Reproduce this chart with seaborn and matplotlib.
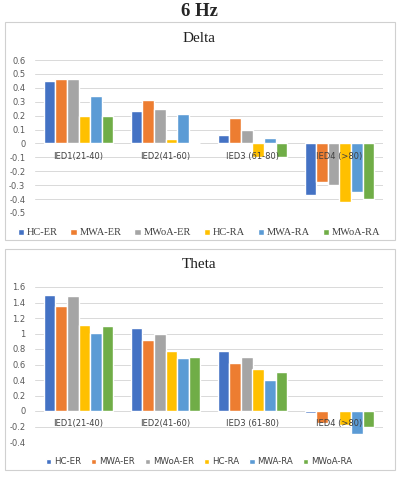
import pandas as pd
import numpy as np
import matplotlib
matplotlib.use('Agg')
import matplotlib.pyplot as plt
import seaborn as sns
from matplotlib.patches import Rectangle

# categories and series
groups = ['IED1(21-40)', 'IED2(41-60)', 'IED3 (61-80)', 'IED4 (>80)']
series = ['HC-ER', 'MWA-ER', 'MWoA-ER', 'HC-RA', 'MWA-RA', 'MWoA-RA']
colors = ['#4472C4', '#ED7D31', '#A5A5A5', '#FFC000', '#5B9BD5', '#70AD47']

# values, one list per series (IED1..IED4)
delta_hc_er = [0.45, 0.23, 0.06, -0.37]
delta_mwa_er = [0.46, 0.31, 0.18, -0.28]
delta_mwoa_er = [0.46, 0.25, 0.10, -0.30]
delta_hc_ra = [0.20, 0.03, -0.10, -0.42]
delta_mwa_ra = [0.34, 0.21, 0.04, -0.35]
delta_mwoa_ra = [0.20, 0.00, -0.10, -0.40]

theta_hc_er = [1.50, 1.07, 0.78, -0.03]
theta_mwa_er = [1.35, 0.92, 0.62, -0.15]
theta_mwoa_er = [1.48, 1.00, 0.70, 0.00]
theta_hc_ra = [1.11, 0.77, 0.54, -0.18]
theta_mwa_ra = [1.01, 0.69, 0.40, -0.30]
theta_mwoa_ra = [1.10, 0.70, 0.50, -0.20]

delta_ticks = [-0.5, -0.4, -0.3, -0.2, -0.1, 0, 0.1, 0.2, 0.3, 0.4, 0.5, 0.6]
theta_ticks = [-0.4, -0.2, 0, 0.2, 0.4, 0.6, 0.8, 1, 1.2, 1.4, 1.6]


def long_form(cols):
    rows = []
    for s, vals in zip(series, cols):
        for g, v in zip(groups, vals):
            rows.append({'group': g, 'series': s, 'value': v})
    return pd.DataFrame(rows)


delta = long_form([delta_hc_er, delta_mwa_er, delta_mwoa_er,
                   delta_hc_ra, delta_mwa_ra, delta_mwoa_ra])
theta = long_form([theta_hc_er, theta_mwa_er, theta_mwoa_er,
                   theta_hc_ra, theta_mwa_ra, theta_mwoa_ra])

sns.set_style('white')
plt.rcParams['font.family'] = ['Liberation Serif', 'DejaVu Serif']

fig = plt.figure(figsize=(3.98, 4.8), dpi=100)

# panel frames
fig.patches.append(Rectangle((5 / 398, 1 - 240 / 480), 390 / 398, 218 / 480,
                             transform=fig.transFigure, fill=False,
                             edgecolor='#D0D0D0', lw=0.8))
fig.patches.append(Rectangle((5 / 398, 1 - 470 / 480), 390 / 398, 221 / 480,
                             transform=fig.transFigure, fill=False,
                             edgecolor='#D0D0D0', lw=0.8))

fig.text(0.5, 1 - 12 / 480, '6 Hz', ha='center', va='center',
         fontsize=13.5, fontweight='bold')


def panel(df, rect, title, title_y, ticks, legend_y, legend_font):
    ax = fig.add_axes(rect)
    sns.barplot(data=df, x='group', y='value', hue='series', palette=colors,
                width=0.8, saturation=1, ax=ax, errorbar=None)
    ax.set_ylim(ticks[0], ticks[-1])
    ax.set_yticks(ticks)
    ax.set_yticklabels(['0' if t == 0 else f'{t:g}' for t in ticks],
                       family='DejaVu Sans', fontsize=6, color='#595959')
    ax.yaxis.grid(True, color='#D9D9D9', lw=0.7)
    ax.set_axisbelow(True)
    ax.tick_params(axis='y', length=0, pad=7)
    ax.set_xticks([])
    ax.set_xlabel('')
    ax.set_ylabel('')
    for sp in ax.spines.values():
        sp.set_visible(False)
    for i, g in enumerate(groups):
        ax.annotate(g, (i, 0), xytext=(0, -6), textcoords='offset points',
                    ha='center', va='top', fontsize=6, color='#404040',
                    family='DejaVu Sans', zorder=5)
    handles, labels = ax.get_legend_handles_labels()
    ax.legend_.remove()
    fig.legend(handles, labels, loc='center', ncol=6,
               bbox_to_anchor=(0.5, 1 - legend_y / 480), frameon=False,
               prop={'family': legend_font[1], 'size': legend_font[0]},
               handlelength=0.6, handleheight=0.6, handletextpad=0.3,
               columnspacing=1.2, labelcolor='#404040')
    fig.text(0.5, 1 - title_y / 480, title, ha='center', va='center',
             fontsize=11, color='#202020')
    return ax


panel(delta, [35 / 398, 1 - 213 / 480, 348 / 398, 153 / 480], 'Delta', 38,
      delta_ticks, 233, (7.5, 'Liberation Serif'))
panel(theta, [35 / 398, 1 - 442 / 480, 348 / 398, 155 / 480], 'Theta', 265,
      theta_ticks, 462, (6.2, 'DejaVu Sans'))

fig.savefig('out.png', dpi=100)
